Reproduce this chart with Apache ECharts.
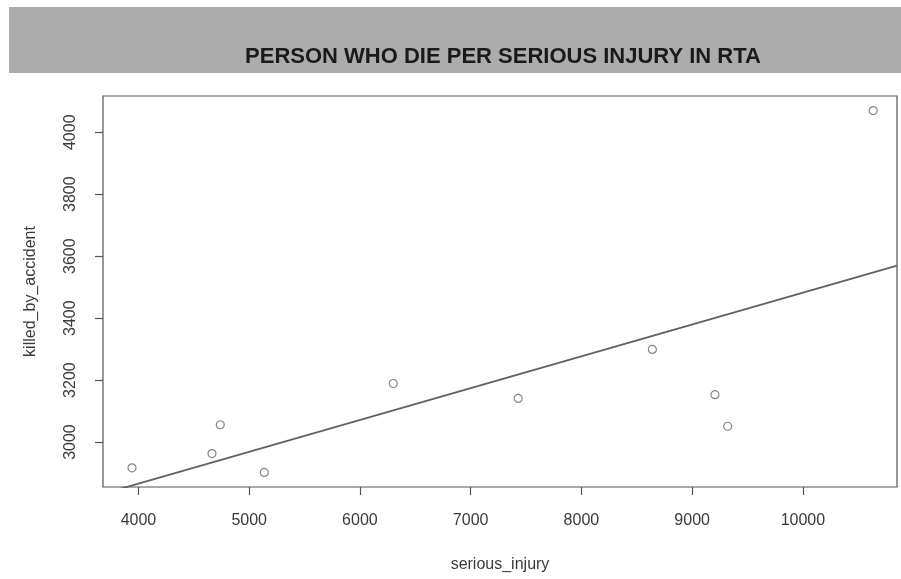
<!DOCTYPE html>
<html>
<head>
<meta charset="utf-8">
<script src="https://cdn.jsdelivr.net/npm/echarts@6/dist/echarts.min.js"></script>
<style>
  html, body { margin: 0; padding: 0; background: #ffffff; }
  #chart { width: 901px; height: 579px; }
</style>
</head>
<body>
<div id="chart"></div>
<script>
// Serious injuries vs. people killed in road traffic accidents
const seriousInjury    = [3942, 4664, 4739, 5136, 6301, 7429, 8641, 9206, 9321, 10635];
const killedByAccident = [2917, 2963, 3056, 2902, 3189, 3141, 3299, 3153, 3051, 4070];

const xTicks = [4000, 5000, 6000, 7000, 8000, 9000, 10000];
const yTicks = [3000, 3200, 3400, 3600, 3800, 4000];

const titleText = 'PERSON WHO DIE PER SERIOUS INJURY IN RTA';
const xName = 'serious_injury';
const yName = 'killed_by_accident';

// Plot range (data range padded on each side)
const xMin = 3680, xMax = 10850;
const yMin = 2855, yMax = 4117;

// Least-squares fit of killed on serious injuries
function linearFit(xs, ys) {
  const n = xs.length;
  const mx = xs.reduce((a, b) => a + b, 0) / n;
  const my = ys.reduce((a, b) => a + b, 0) / n;
  let sxy = 0, sxx = 0;
  for (let i = 0; i < n; i++) {
    sxy += (xs[i] - mx) * (ys[i] - my);
    sxx += (xs[i] - mx) * (xs[i] - mx);
  }
  const slope = sxy / sxx;
  return { slope, intercept: my - slope * mx };
}
const fit = linearFit(seriousInjury, killedByAccident);
const fitLine = [xMin, xMax].map(x => [x, fit.intercept + fit.slope * x]);

const points = seriousInjury.map((x, i) => [x, killedByAccident[i]]);

const chart = echarts.init(document.getElementById('chart'), null, { renderer: 'canvas' });

const labelFont = { fontFamily: 'Liberation Sans', fontSize: 16, color: '#3a3a3a' };
const plain = v => String(v);

chart.setOption({
  backgroundColor: '#ffffff',
  animation: false,
  graphic: [{
    type: 'rect',
    shape: { x: 9, y: 7, width: 892, height: 66 },
    style: { fill: '#acacac' },
    silent: true,
    z: 0
  }],
  title: {
    text: titleText,
    left: 498,
    top: 41,
    textAlign: 'center',
    textStyle: {
      fontFamily: 'Liberation Sans',
      fontWeight: 'bold',
      fontSize: 22,
      color: '#1a1a1a'
    }
  },
  grid: {
    left: 103, right: 4, top: 96, bottom: 92,
    show: true,
    borderColor: '#555555',
    borderWidth: 1.2,
    backgroundColor: 'transparent'
  },
  xAxis: {
    type: 'value',
    min: xMin, max: xMax,
    name: xName,
    nameLocation: 'middle',
    nameGap: 70,
    nameTextStyle: Object.assign({}, labelFont, { fontSize: 16 }),
    axisLine: { show: false },
    splitLine: { show: false },
    axisTick: {
      show: true, inside: false, length: 8,
      customValues: xTicks,
      lineStyle: { color: '#555555', width: 1.2 }
    },
    axisLabel: Object.assign({ margin: 26, customValues: xTicks, formatter: plain }, labelFont)
  },
  yAxis: {
    type: 'value',
    min: yMin, max: yMax,
    name: yName,
    nameLocation: 'middle',
    nameGap: 64,
    nameRotate: 90,
    nameTextStyle: Object.assign({}, labelFont, { fontSize: 16 }),
    axisLine: { show: false },
    splitLine: { show: false },
    axisTick: {
      show: true, inside: false, length: 8,
      customValues: yTicks,
      lineStyle: { color: '#555555', width: 1.2 }
    },
    axisLabel: Object.assign({ margin: 24, rotate: 90, customValues: yTicks, formatter: plain }, labelFont)
  },
  series: [
    {
      type: 'scatter',
      data: points,
      symbol: 'circle',
      symbolSize: 8,
      itemStyle: { color: '#ffffff', borderColor: '#666666', borderWidth: 1.2 },
      z: 3
    },
    {
      type: 'line',
      data: fitLine,
      showSymbol: false,
      clip: true,
      lineStyle: { color: '#606060', width: 1.8 },
      z: 2
    }
  ]
});
</script>
</body>
</html>
